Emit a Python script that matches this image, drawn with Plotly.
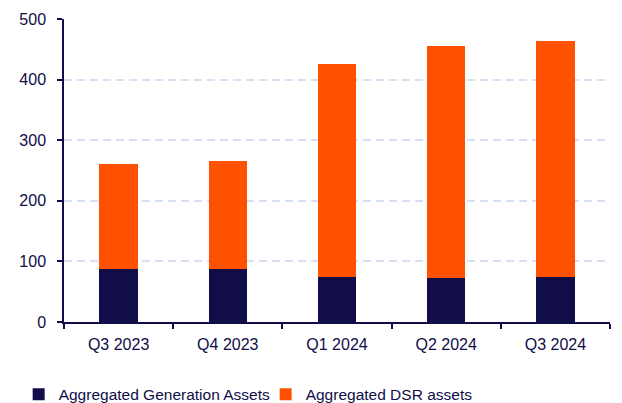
import plotly.graph_objects as go

categories = ["Q3 2023", "Q4 2023", "Q1 2024", "Q2 2024", "Q3 2024"]
generation = [88, 88, 75, 72, 75]
dsr = [172, 178, 350, 383, 388]
y_ticks = [0, 100, 200, 300, 400, 500]

navy = "#100d48"
orange = "#ff5100"

fig = go.Figure()
fig.add_trace(go.Bar(x=categories, y=generation, name="Aggregated Generation Assets",
                     marker=dict(color=navy, line=dict(width=0))))
fig.add_trace(go.Bar(x=categories, y=dsr, name="Aggregated DSR assets",
                     marker=dict(color=orange, line=dict(width=0))))

font = "Liberation Sans, Arial, sans-serif"
fig.update_layout(
    template="none",
    barmode="stack",
    bargap=0.65,
    width=622, height=403,
    margin=dict(l=64, r=12, t=19, b=81, autoexpand=False),
    paper_bgcolor="white", plot_bgcolor="white",
    font=dict(family=font, size=16, color=navy),
    showlegend=True,
    legend=dict(orientation="h", xref="container", yref="paper",
                x=0.03, xanchor="left", y=-0.24, yanchor="middle",
                font=dict(size=15.5, color=navy), itemwidth=30, traceorder="normal",
                entrywidth=202, bgcolor="rgba(0,0,0,0)"),
)
fig.update_xaxes(showline=True, linecolor=navy, linewidth=1.5, ticks="outside",
                 tickson="boundaries", ticklen=5, tickcolor=navy, tickwidth=1.5,
                 showgrid=False, automargin=False, ticklabelstandoff=7)
fig.update_yaxes(range=[0, 500], tickvals=y_ticks, showline=True, linecolor=navy,
                 linewidth=1.5, ticks="outside", ticklen=5, tickcolor=navy, tickwidth=1.5,
                 showgrid=True, gridcolor="#d6dff4", griddash="8px,5px", gridwidth=1.5,
                 zeroline=False, ticklabelstandoff=8, automargin=False)

fig.write_html("out.html", config={"displayModeBar": False},
               post_script="document.body.style.margin='0';")
